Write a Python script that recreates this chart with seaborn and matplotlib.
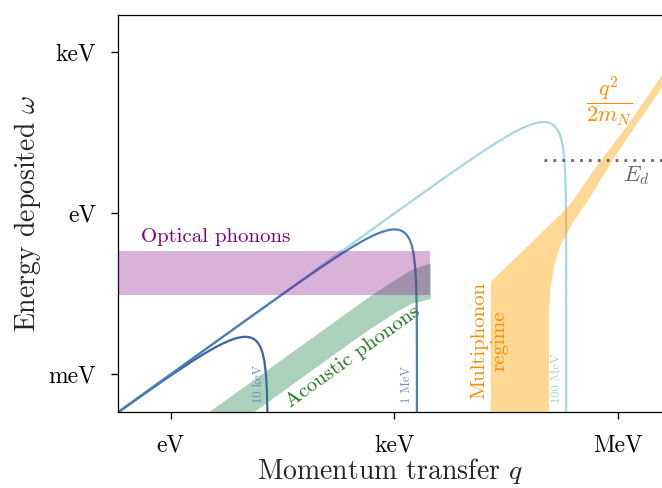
import matplotlib
matplotlib.use("Agg")
import matplotlib.pyplot as plt
import seaborn as sns
import pandas as pd

# ---------------- data (eV units) ----------------
# dark-matter kinematic curves
q_10keV = [0.1, 0.5, 1, 2, 3, 4, 5, 6, 7, 8, 9, 10, 11, 12, 13, 14, 15, 16, 17, 18, 19, 19.5, 19.8, 19.9]
w_10keV = [1e-4, 4.875e-4, 9.5e-4, 1.8e-3, 2.55e-3, 3.2e-3, 3.75e-3, 4.2e-3, 4.55e-3, 4.8e-3, 4.95e-3,
           5e-3, 4.95e-3, 4.8e-3, 4.55e-3, 4.2e-3, 3.75e-3, 3.2e-3, 2.55e-3, 1.8e-3, 9.5e-4, 4.875e-4,
           1.98e-4, 9.95e-5]

q_1MeV = [0.1, 1, 10, 50, 100, 200, 300, 400, 500, 600, 700, 800, 900, 1000, 1100, 1200, 1300, 1400,
          1500, 1600, 1700, 1800, 1900, 1950, 1980, 1990, 1995, 1998, 1999, 1999.9]
w_1MeV = [1e-4, 1e-3, 9.95e-3, 0.04875, 0.095, 0.18, 0.255, 0.32, 0.375, 0.42, 0.455, 0.48, 0.495,
          0.5, 0.495, 0.48, 0.455, 0.42, 0.375, 0.32, 0.255, 0.18, 0.095, 0.04875, 0.0198, 0.00995,
          0.0049875, 0.001998, 0.0009995, 1e-4]

q_100MeV = [0.1, 1, 10, 100, 1000, 5000, 1e4, 2e4, 3e4, 4e4, 5e4, 6e4, 7e4, 8e4, 9e4, 1e5, 1.1e5,
            1.2e5, 1.3e5, 1.4e5, 1.5e5, 1.6e5, 1.7e5, 1.8e5, 1.9e5, 1.95e5, 1.98e5, 1.99e5, 1.995e5,
            1.998e5, 1.999e5, 1.9995e5, 1.9998e5, 1.9999e5, 1.99999e5, 1.999999e5]
w_100MeV = [1e-4, 1e-3, 0.01, 0.1, 0.995, 4.875, 9.5, 18, 25.5, 32, 37.5, 42, 45.5, 48, 49.5, 50,
            49.5, 48, 45.5, 42, 37.5, 32, 25.5, 18, 9.5, 4.875, 1.98, 0.995, 0.49875, 0.1998,
            0.09995, 0.05, 0.02, 0.01, 0.001, 1e-4]

mass_labels = ["10 keV", "1 MeV", "100 MeV"]
mass_label_q = [15.3, 1471, 1.49e5]

# optical phonon band
optical_q = [0.1, 3000]
optical_lo = 0.03
optical_hi = 0.2

# acoustic phonon band (upper edge, lower edge)
ac_up_q = [1.67, 3.33, 15.7, 94.3, 489, 1000, 1680, 3055]
ac_up_w = [1e-4, 2.0e-4, 9.4e-4, 5.66e-3, 0.0293, 0.056, 0.0875, 0.117]
ac_lo_q = [6.7, 13.4, 54.1, 186, 470, 1016, 1663, 3055]
ac_lo_w = [1e-4, 2.0e-4, 8.1e-4, 2.79e-3, 6.9e-3, 0.0138, 0.0204, 0.0252]

# multiphonon regime (upper edge, lower edge)
mp_up_q = [1.95e4, 1.95e4, 6.55e4, 1.93e5, 2.49e5, 5.99e5, 1.30e6, 3.86e6, 6e6]
mp_up_w = [1e-4, 0.053, 0.267, 1.15, 1.76, 10.1, 40.8, 375, 906]
mp_lo_q = [6e6, 3.86e6, 1.67e6, 8.57e5, 3.96e5, 2.49e5, 1.65e5, 1.37e5, 1.24e5, 1.18e5, 1.18e5]
mp_lo_w = [517, 214, 40.8, 10.1, 1.76, 0.686, 0.238, 0.101, 0.0428, 0.0157, 1e-4]

E_d = 10.0
E_d_qstart = 1e5

x_ticks = [1, 1e3, 1e6]
x_ticklabels = ["eV", "keV", "MeV"]
y_ticks = [1e-3, 1, 1e3]
y_ticklabels = ["meV", "eV", "keV"]

# ---------------- style ----------------
sns.set_theme(style="ticks")
plt.rcParams.update({
    "font.family": "serif",
    "font.serif": ["cmr10"],
    "mathtext.fontset": "cm",
    "axes.formatter.use_mathtext": True,
    "axes.unicode_minus": False,
    "axes.edgecolor": "black",
    "axes.linewidth": 0.9,
    "xtick.color": "black",
    "ytick.color": "black",
})

fig = plt.figure(figsize=(6.62, 4.88), dpi=100)
ax = fig.add_axes([118.3 / 662, (488 - 411.7) / 488, (662 - 118.3) / 662, (411.7 - 15) / 488])
ax.set_xscale("log")
ax.set_yscale("log")

c10k = "#3e62aa"
c1M = "#4a7db8"
c100M = "#a9d6e3"

sns.lineplot(x=q_100MeV, y=w_100MeV, ax=ax, color=c100M, lw=1.6, sort=False, estimator=None, zorder=2)
sns.lineplot(x=q_10keV, y=w_10keV, ax=ax, color=c10k, lw=1.6, sort=False, estimator=None, zorder=2)
sns.lineplot(x=q_1MeV, y=w_1MeV, ax=ax, color=c1M, lw=1.6, sort=False, estimator=None, zorder=2)

# bands
ax.fill(ac_up_q + ac_lo_q[::-1], ac_up_w + ac_lo_w[::-1], color="seagreen", alpha=0.4, lw=0, zorder=3)
ax.fill_between(optical_q, optical_lo, optical_hi, color="purple", alpha=0.3, lw=0, zorder=3)
ax.fill(mp_up_q + mp_lo_q, mp_up_w + mp_lo_w, color="orange", alpha=0.42, lw=0, zorder=3)

ax.hlines(E_d, E_d_qstart, 1e8, colors="#666666", linestyles=(0, (1, 2.2)), lw=2, zorder=4)

# texts
y_lab = 2.88e-4
for lab, qx, col in zip(mass_labels, mass_label_q, ["#6f8fc4", "#6f8fc4", c100M]):
    ax.text(qx, y_lab, lab, rotation=90, ha="center", va="bottom", fontsize=9, color=col, zorder=5)

ax.text(0.40, 0.29, "Optical phonons", color="purple", fontsize=15, ha="left", va="baseline")
ax.text(278, 2.1e-3, "Acoustic phonons", color="#1f7a1f", fontsize=15, rotation=35.8,
        rotation_mode="anchor", ha="center", va="center")
ax.text(1.85e4, 4.25e-3, "Multiphonon\nregime", color="darkorange", fontsize=15, rotation=90,
        ha="center", va="center", multialignment="center", linespacing=1.15)
ax.text(7.5e5, 123, r"$\dfrac{q^2}{2m_N}$", color="darkorange", fontsize=16, ha="center", va="center")
ax.text(1.75e6, 4.93, r"$E_d$", color="#666666", fontsize=16, ha="center", va="center")

ax.set_xlim(10 ** -0.702, 10 ** 6.586)
ax.set_ylim(10 ** -3.696, 10 ** 3.691)
ax.set_xticks(x_ticks)
ax.set_xticklabels(x_ticklabels)
ax.set_yticks(y_ticks)
ax.set_yticklabels(y_ticklabels)
ax.minorticks_off()
ax.tick_params(axis="x", which="major", direction="out", length=5, width=1, labelsize=17, pad=11)
ax.spines["right"].set_visible(False)
ax.tick_params(axis="y", which="major", direction="out", length=5, width=1, labelsize=17, pad=11)

ax.set_xlabel(r"Momentum transfer $q$", fontsize=20, labelpad=0)
ax.set_ylabel(r"Energy deposited $\omega$", fontsize=20, labelpad=4)

fig.savefig("out.png", dpi=100)
